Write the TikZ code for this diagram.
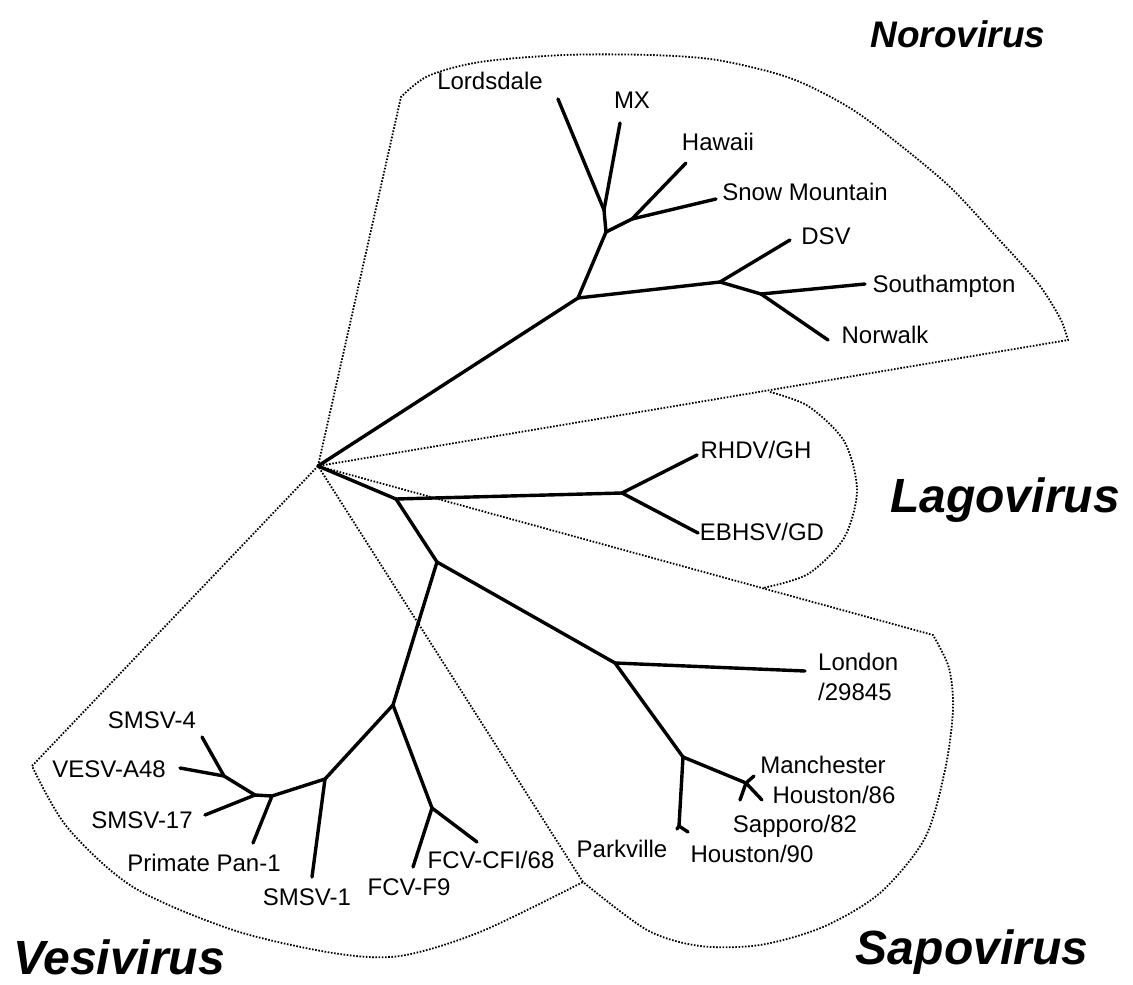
\documentclass[tikz,border=0pt]{standalone}
\usepackage{fontspec}
\setmainfont{Liberation Sans}
\begin{document}
\begin{tikzpicture}[x=1pt, y=-1pt,
  branch/.style={line width=3.4pt, line cap=round},
  outline/.style={line width=1.8pt, dash pattern=on 1.6pt off 1.6pt},
  strain/.style={font=\fontsize{24}{30}\selectfont, inner sep=0pt, anchor=base},
  genus/.style={font=\fontsize{48}{56}\selectfont\bfseries\itshape, inner sep=0pt, anchor=base}]

\useasboundingbox (0,0) rectangle (1133,985);

% branch points
\foreach \n/\x/\y in {root/318/466, n1/578/298, n2/606/232, n3/604/210, n4/632/219,
    n5/720/282, n6/761/294, l1/396/499, l2/622/493, s0/437/562, s1/615/663,
    s2/683/757, s3/746/783, s4/679/826, v0/393/705, v1/325/779, v2/272/796,
    v3/255/795, v4/224/776, v5/432/808}
  \coordinate (\n) at (\x,\y);

% tips
\foreach \n/\x/\y in {lordsdale/558/99, mx/620/123, hawaii/686/163, snow/716/199,
    dsv/790/240, southampton/865/284, norwalk/828/340, rhdv/697/455, ebhsv/698/533,
    london/805/671, manchester/754/776, houston86/762/800, sapporo/740/800,
    houston90/688/832, parkville/677/829, smsv1/312/877, primate/253/843,
    smsv17/205/815, smsv4/202/737, vesv/180/768, fcvf9/413/867, fcvcfi/477/842}
  \coordinate (t-\n) at (\x,\y);

% outline corners
\coordinate (noro-tl) at (401,97);
\coordinate (noro-br) at (1068,340);
\coordinate (lago-t) at (770,392);
\coordinate (lago-b) at (763,588);
\coordinate (sapo-tr) at (933,635);
\coordinate (sapo-bl) at (583,882);
\coordinate (vesi-l) at (32,766);

\draw[outline] (root) -- plot[smooth] coordinates {(noro-tl) (428,76) (480,62)
    (564,55) (650,55) (717,60) (790,78) (850,108) (900,145) (950,187) (993,233)
    (1037,282) (1060,318) (noro-br)} -- (root);
\draw[outline] plot[smooth] coordinates {(lago-t) (808,406) (844,441) (857,490)
    (844,538) (808,574) (lago-b)};
\draw[outline] (root) -- plot[smooth] coordinates {(sapo-tr) (949,668) (953,710)
    (945,770) (925,838) (880,893) (823,927) (760,945) (700,946) (647,930)
    (sapo-bl)} -- (root);
\draw[outline] (root) -- plot[smooth] coordinates {(vesi-l) (67,827) (133,887)
    (233,930) (333,953) (400,956) (480,932) (sapo-bl)};

% tree
\foreach \a/\b in {root/n1, n1/n2, n2/n3, n3/t-lordsdale, n3/t-mx, n2/n4,
    n4/t-hawaii, n4/t-snow, n1/n5, n5/t-dsv, n5/n6, n6/t-southampton,
    n6/t-norwalk, root/l1, l1/l2, l2/t-rhdv, l2/t-ebhsv, l1/s0, s0/s1,
    s1/t-london, s1/s2, s2/s3, s3/t-manchester, s3/t-houston86, s3/t-sapporo,
    s2/s4, s4/t-houston90, s4/t-parkville, s0/v0, v0/v1, v1/t-smsv1, v1/v2,
    v2/t-primate, v2/v3, v3/t-smsv17, v3/v4, v4/t-smsv4, v4/t-vesv, v0/v5,
    v5/t-fcvf9, v5/t-fcvcfi}
  \draw[branch] (\a) -- (\b);

% strain names
\foreach \t/\x/\y [count=\i] in {Lordsdale/490/89, MX/632/108, Hawaii/718/150,
    Snow Mountain/805/200, DSV/826/244, Southampton/944/292, Norwalk/885/343,
    {RHDV/GH}/756/458, {EBHSV/GD}/762/540, Manchester/823/773,
    {Houston/86}/834/803, {Sapporo/82}/795/832, {Houston/90}/752/862,
    Parkville/622/857, SMSV-4/152/728, VESV-A48/109/777, SMSV-17/142/828,
    Primate Pan-1/204/871, SMSV-1/307/905, FCV-F9/409/895, {FCV-CFI/68}/491/868}
  \node[strain] (label-\i) at (\x,\y) {\t};

\node[strain, anchor=north west, align=left] (label-london) at (818,652.5) {London\\/29845};

% genera
\node[genus, font=\fontsize{37}{44}\selectfont\bfseries\itshape] (genus-noro) at (958,47) {Norovirus};
\foreach \g/\x/\y in {Lagovirus/1005/512, Sapovirus/972/964, Vesivirus/119/974}
  \node[genus] (genus-\g) at (\x,\y) {\g};

\end{tikzpicture}
\end{document}
